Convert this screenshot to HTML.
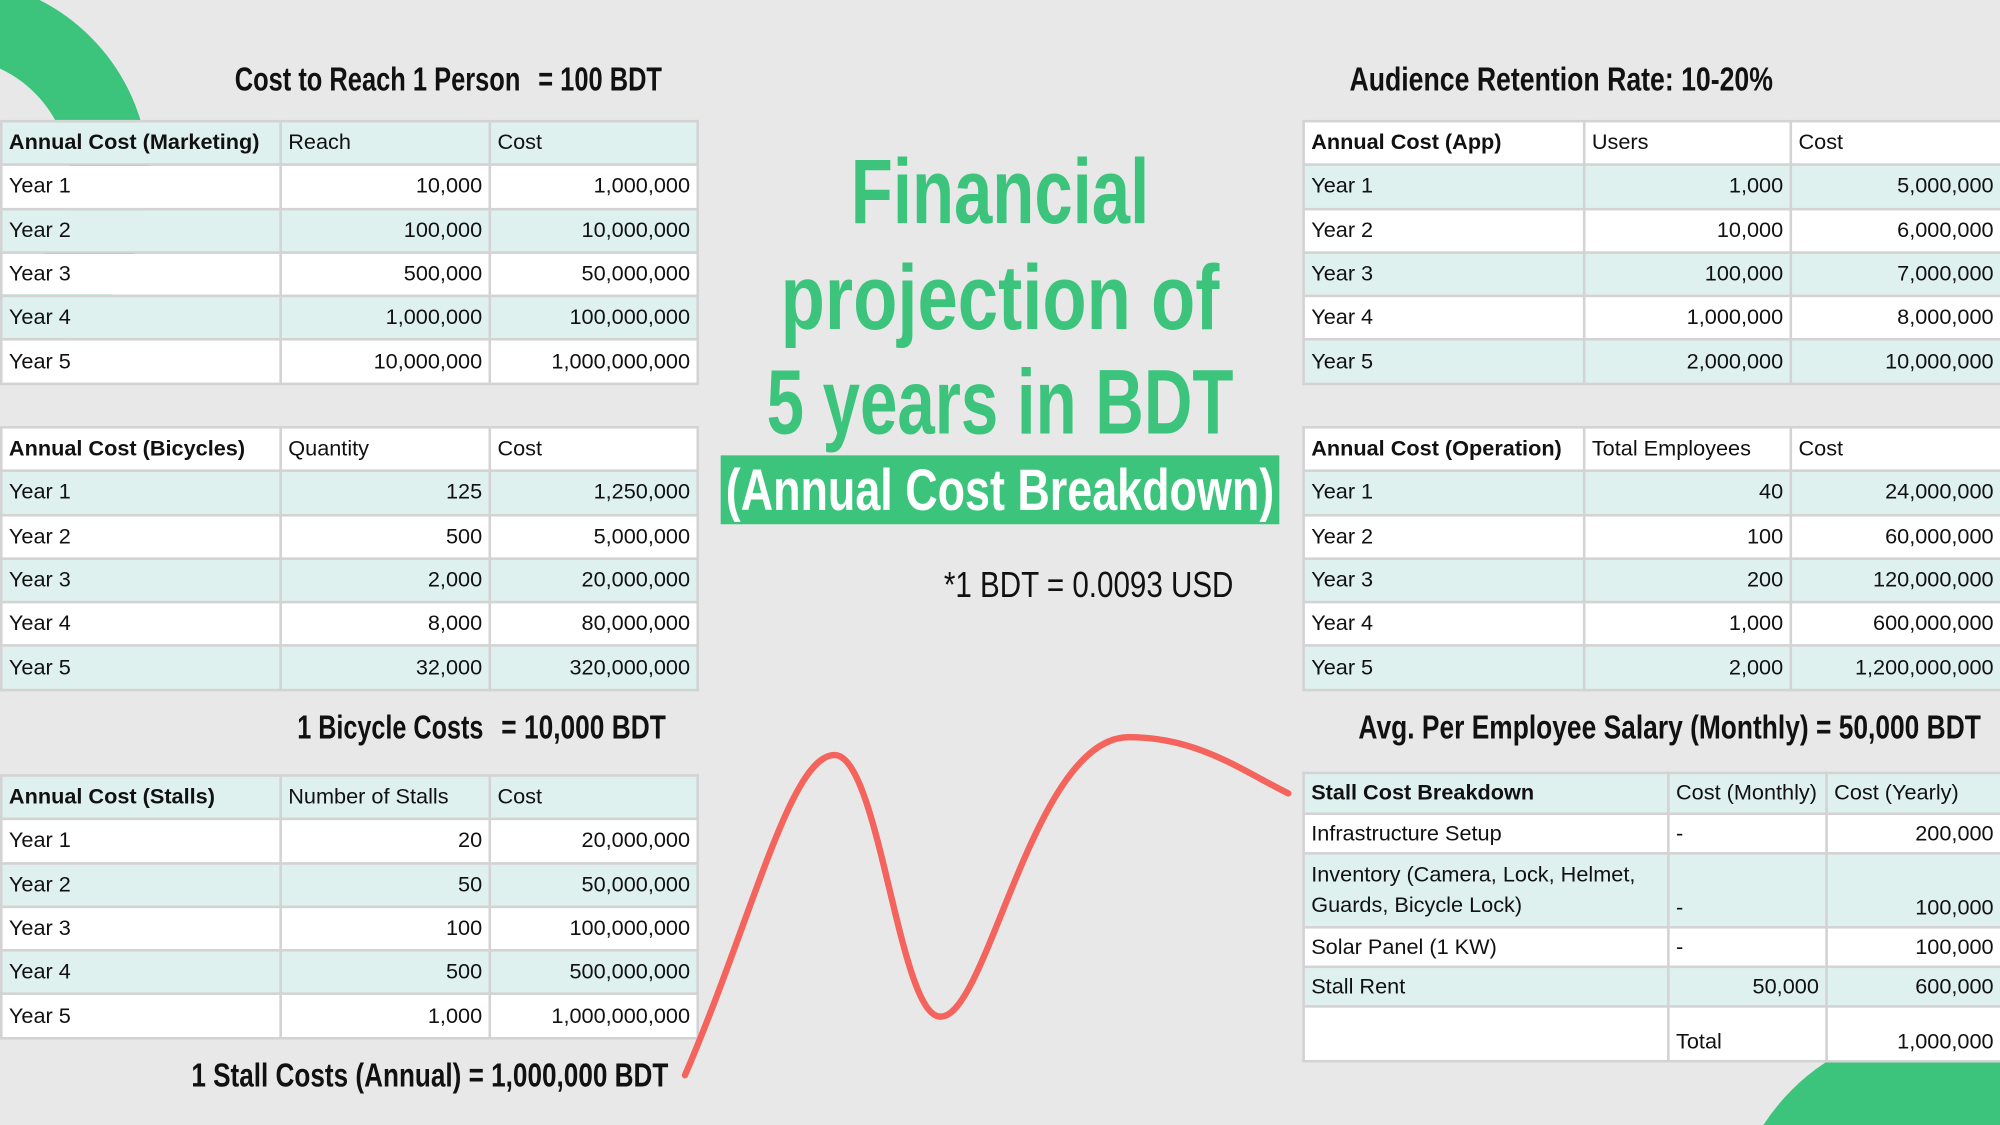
<!DOCTYPE html>
<html><head><meta charset="utf-8">
<style>
html,body{margin:0;padding:0;background:#e8e8e8;}
body{width:2000px;height:1125px;overflow:hidden;position:relative;}
#wrap{position:absolute;left:0;top:0;width:1568px;height:882px;transform:scale(1.27551);transform-origin:0 0;background:#e8e8e8;overflow:hidden;}
table{position:absolute;border-collapse:collapse;font-family:"Liberation Sans",Arial,sans-serif;font-size:17px;color:#111;table-layout:fixed;}
td{border:2px solid #d3d3d3;padding:0 5px;height:32.3px;white-space:nowrap;overflow:hidden;}
td.r{text-align:right;}
tr.t td{background:#dff1ef;}
tr.w td{background:#fff;}
td.b{font-weight:bold;}
svg{position:absolute;left:0;top:0;}
#bd td{height:auto;padding-top:0;padding-bottom:0;line-height:20px;}
</style></head><body>
<div id="wrap">
<svg width="1568" height="882">
 <circle cx="-40" cy="140" r="126" fill="none" stroke="#3cc47c" stroke-width="62"/>
 <circle cx="1522" cy="972" r="128" fill="none" stroke="#3cc47c" stroke-width="76"/>
</svg>

<table style="left:0;top:94px;width:546px">
<colgroup><col style="width:219px"><col style="width:164px"><col style="width:163px"></colgroup>
<tr class="t"><td class="b">Annual Cost (Marketing)</td><td>Reach</td><td>Cost</td></tr>
<tr class="w"><td>Year 1</td><td class="r">10,000</td><td class="r">1,000,000</td></tr>
<tr class="t"><td>Year 2</td><td class="r">100,000</td><td class="r">10,000,000</td></tr>
<tr class="w"><td>Year 3</td><td class="r">500,000</td><td class="r">50,000,000</td></tr>
<tr class="t"><td>Year 4</td><td class="r">1,000,000</td><td class="r">100,000,000</td></tr>
<tr class="w"><td>Year 5</td><td class="r">10,000,000</td><td class="r">1,000,000,000</td></tr>
</table>

<table style="left:0;top:334px;width:546px">
<colgroup><col style="width:219px"><col style="width:164px"><col style="width:163px"></colgroup>
<tr class="w"><td class="b">Annual Cost (Bicycles)</td><td>Quantity</td><td>Cost</td></tr>
<tr class="t"><td>Year 1</td><td class="r">125</td><td class="r">1,250,000</td></tr>
<tr class="w"><td>Year 2</td><td class="r">500</td><td class="r">5,000,000</td></tr>
<tr class="t"><td>Year 3</td><td class="r">2,000</td><td class="r">20,000,000</td></tr>
<tr class="w"><td>Year 4</td><td class="r">8,000</td><td class="r">80,000,000</td></tr>
<tr class="t"><td>Year 5</td><td class="r">32,000</td><td class="r">320,000,000</td></tr>
</table>

<table style="left:0;top:607px;width:546px">
<colgroup><col style="width:219px"><col style="width:164px"><col style="width:163px"></colgroup>
<tr class="t"><td class="b">Annual Cost (Stalls)</td><td>Number of Stalls</td><td>Cost</td></tr>
<tr class="w"><td>Year 1</td><td class="r">20</td><td class="r">20,000,000</td></tr>
<tr class="t"><td>Year 2</td><td class="r">50</td><td class="r">50,000,000</td></tr>
<tr class="w"><td>Year 3</td><td class="r">100</td><td class="r">100,000,000</td></tr>
<tr class="t"><td>Year 4</td><td class="r">500</td><td class="r">500,000,000</td></tr>
<tr class="w"><td>Year 5</td><td class="r">1,000</td><td class="r">1,000,000,000</td></tr>
</table>

<table style="left:1021px;top:94px;width:547px">
<colgroup><col style="width:220px"><col style="width:162px"><col style="width:165px"></colgroup>
<tr class="w"><td class="b">Annual Cost (App)</td><td>Users</td><td>Cost</td></tr>
<tr class="t"><td>Year 1</td><td class="r">1,000</td><td class="r">5,000,000</td></tr>
<tr class="w"><td>Year 2</td><td class="r">10,000</td><td class="r">6,000,000</td></tr>
<tr class="t"><td>Year 3</td><td class="r">100,000</td><td class="r">7,000,000</td></tr>
<tr class="w"><td>Year 4</td><td class="r">1,000,000</td><td class="r">8,000,000</td></tr>
<tr class="t"><td>Year 5</td><td class="r">2,000,000</td><td class="r">10,000,000</td></tr>
</table>

<table style="left:1021px;top:334px;width:547px">
<colgroup><col style="width:220px"><col style="width:162px"><col style="width:165px"></colgroup>
<tr class="w"><td class="b">Annual Cost (Operation)</td><td>Total Employees</td><td>Cost</td></tr>
<tr class="t"><td>Year 1</td><td class="r">40</td><td class="r">24,000,000</td></tr>
<tr class="w"><td>Year 2</td><td class="r">100</td><td class="r">60,000,000</td></tr>
<tr class="t"><td>Year 3</td><td class="r">200</td><td class="r">120,000,000</td></tr>
<tr class="w"><td>Year 4</td><td class="r">1,000</td><td class="r">600,000,000</td></tr>
<tr class="t"><td>Year 5</td><td class="r">2,000</td><td class="r">1,200,000,000</td></tr>
</table>

<table id="bd" style="left:1021px;top:605px;width:547px">
<colgroup><col style="width:286px"><col style="width:124px"><col style="width:137px"></colgroup>
<tr class="t"><td class="b" style="height:30px">Stall Cost Breakdown</td><td>Cost (Monthly)</td><td>Cost (Yearly)</td></tr>
<tr class="w"><td style="height:29px">Infrastructure Setup</td><td>-</td><td class="r">200,000</td></tr>
<tr class="t"><td style="height:56px;line-height:24px;white-space:normal">Inventory (Camera, Lock, Helmet, Guards, Bicycle Lock)</td><td style="vertical-align:bottom;padding-bottom:4px">-</td><td class="r" style="vertical-align:bottom;padding-bottom:4px">100,000</td></tr>
<tr class="w"><td style="height:29px">Solar Panel (1 KW)</td><td>-</td><td class="r">100,000</td></tr>
<tr class="t"><td style="height:29px">Stall Rent</td><td class="r">50,000</td><td class="r">600,000</td></tr>
<tr class="w"><td style="height:41px"></td><td style="vertical-align:bottom;padding-bottom:4px">Total</td><td class="r" style="vertical-align:bottom;padding-bottom:4px">1,000,000</td></tr>
</table>

<svg width="1568" height="882" font-family="Liberation Sans Narrow, Liberation Sans, sans-serif" font-weight="bold">
 <path d="M537,843 C590,720 620,590 655,592 C690,595 705,800 738,797 C775,795 810,578 885,578 C940,578 975,605 1010,622" fill="none" stroke="#f4645c" stroke-width="5" stroke-linecap="round"/>
 <text x="184" y="71" font-size="26" textLength="224" lengthAdjust="spacingAndGlyphs" fill="#111">Cost to Reach 1 Person</text>
 <text x="422" y="71" font-size="26" textLength="97" lengthAdjust="spacingAndGlyphs" fill="#111">= 100 BDT</text>
 <text x="1058" y="71" font-size="26" textLength="332" lengthAdjust="spacingAndGlyphs" fill="#111">Audience Retention Rate: 10-20%</text>
 <text x="233" y="579" font-size="26" textLength="146" lengthAdjust="spacingAndGlyphs" fill="#111">1 Bicycle Costs</text>
 <text x="393" y="579" font-size="26" textLength="129" lengthAdjust="spacingAndGlyphs" fill="#111">= 10,000 BDT</text>
 <text x="1065" y="579" font-size="26" textLength="488" lengthAdjust="spacingAndGlyphs" fill="#111">Avg. Per Employee Salary (Monthly) = 50,000 BDT</text>
 <text x="150" y="852" font-size="26" textLength="374" lengthAdjust="spacingAndGlyphs" fill="#111">1 Stall Costs (Annual) = 1,000,000 BDT</text>
 <g fill="#3cc47c" font-size="72" text-anchor="middle">
  <text x="784" y="175" textLength="234" lengthAdjust="spacingAndGlyphs">Financial</text>
  <text x="784" y="258" textLength="344" lengthAdjust="spacingAndGlyphs">projection of</text>
  <text x="784" y="340" textLength="366" lengthAdjust="spacingAndGlyphs">5 years in BDT</text>
 </g>
 <rect x="565" y="357" width="438" height="54" fill="#3cc47c"/>
 <text x="784" y="400" font-size="46" fill="#fff" text-anchor="middle" textLength="430" lengthAdjust="spacingAndGlyphs">(Annual Cost Breakdown)</text>
 <text x="740" y="468" font-size="28" font-weight="normal" fill="#111" textLength="227" lengthAdjust="spacingAndGlyphs">*1 BDT = 0.0093 USD</text>
</svg>
</div>
</body></html>
